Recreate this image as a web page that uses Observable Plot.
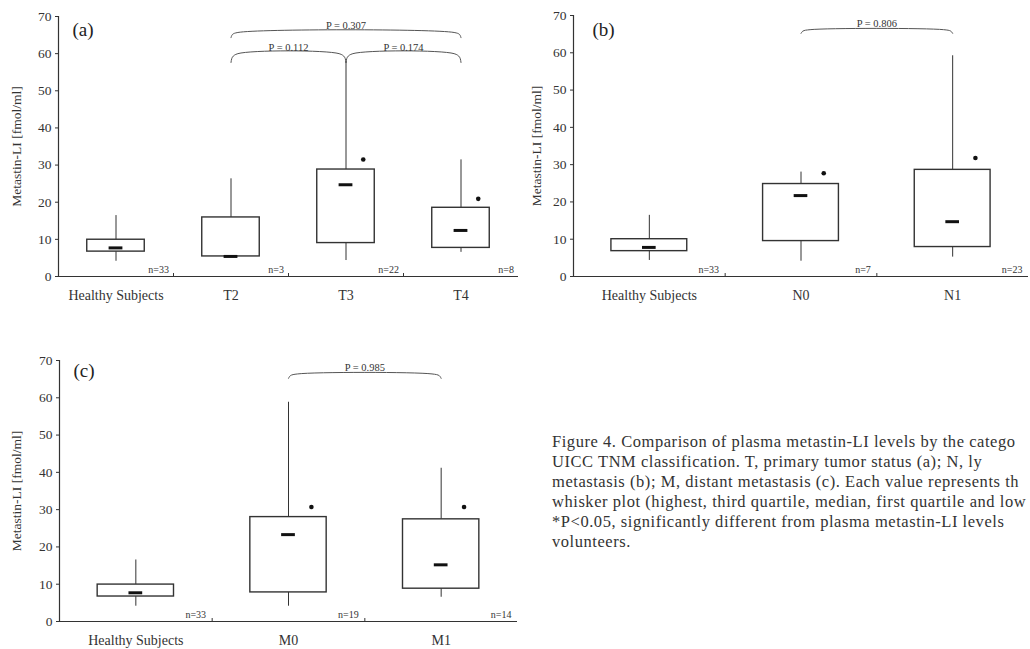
<!DOCTYPE html>
<html><head><meta charset="utf-8">
<script src="https://cdn.jsdelivr.net/npm/d3@7"></script>
<script src="https://cdn.jsdelivr.net/npm/@observablehq/plot@0.6"></script>
<style>
html,body{margin:0;padding:0;background:#fff;width:1030px;height:649px;overflow:hidden;position:relative;font-family:'Liberation Serif','Times New Roman',serif;}
.panel{position:absolute;}
#caption{position:absolute;left:552px;top:432px;width:476px;white-space:nowrap;font-size:16.5px;letter-spacing:0.55px;line-height:20px;color:#333;}
#caption div{height:20px;}
</style></head><body>
<div id="pa" class="panel" style="left:0px;top:0px"></div>
<div id="pb" class="panel" style="left:520px;top:0px"></div>
<div id="pc" class="panel" style="left:0px;top:340px"></div>
<div id="caption"></div>
<script>
// ---------- Panel (a): T status ----------
const aCategories = ["Healthy Subjects", "T2", "T3", "T4"];
const aHigh   = [16.4, 26.3, 58.0, 31.4];
const aQ3     = [9.9, 15.9, 28.8, 18.5];
const aMedian = [7.7, 5.4, 24.7, 12.4];
const aQ1     = [6.7, 5.4, 9.0, 7.7];
const aLow    = [4.1, 5.4, 4.3, 6.5];
const aN      = [33, 3, 22, 8];
const aSig    = [null, null, 31.5, 20.9];
const aBracketFrom  = ["T2", "T2", "T3"];
const aBracketTo    = ["T4", "T3", "T4"];
const aBracketLevel = [65.7, 60.0, 60.0];
const aBracketP     = ["0.307", "0.112", "0.174"];

// ---------- Panel (b): N status ----------
const bCategories = ["Healthy Subjects", "N0", "N1"];
const bHigh   = [16.4, 28.0, 59.2];
const bQ3     = [10.0, 24.8, 28.6];
const bMedian = [7.8, 21.7, 14.7];
const bQ1     = [6.8, 9.5, 7.9];
const bLow    = [4.3, 4.1, 5.2];
const bN      = [33, 7, 23];
const bSig    = [null, 27.7, 31.8];
const bBracketFrom  = ["N0"];
const bBracketTo    = ["N1"];
const bBracketLevel = [66.2];
const bBracketP     = ["0.806"];

// ---------- Panel (c): M status ----------
const cCategories = ["Healthy Subjects", "M0", "M1"];
const cHigh   = [16.5, 58.8, 41.1];
const cQ3     = [9.9, 28.0, 27.4];
const cMedian = [7.7, 23.3, 15.2];
const cQ1     = [6.7, 7.8, 8.8];
const cLow    = [4.1, 4.1, 6.5];
const cN      = [33, 19, 14];
const cSig    = [null, 30.7, 30.7];
const cBracketFrom  = ["M0"];
const cBracketTo    = ["M1"];
const cBracketLevel = [66.4];
const cBracketP     = ["0.985"];

const yTicks = [0, 10, 20, 30, 40, 50, 60, 70];
const yLabel = "Metastin-LI [fmol/ml]";

// caption lines exactly as visible in the (right-cropped) reference
const captionLines = [
  "Figure 4. Comparison of plasma metastin-LI levels by the catego",
  "UICC TNM classification. T, primary tumor status (a); N, ly",
  "metastasis (b); M, distant metastasis (c). Each value represents th",
  "whisker plot (highest, third quartile, median, first quartile and low",
  "*P<0.05, significantly different from plasma metastin-LI levels",
  "volunteers."
];

const INK = "#333";

function panel(d, layout) {
  const k = d.categories.length;
  const rows = d.categories.map((c, i) => ({
    i, cat: c, high: d.high[i], q3: d.q3[i], median: d.median[i],
    q1: d.q1[i], low: d.low[i], n: d.n[i], sig: d.sig[i]
  }));
  const brackets = d.from.map((f, j) => ({
    j, a: d.categories.indexOf(f), b: d.categories.indexOf(d.to[j]),
    level: d.level[j], p: d.p[j], drop: layout.drops[j]
  }));
  const pts = brackets.flatMap(br => {
    const L = br.level, D = br.drop;
    return [
      [br.a, L - D], [br.a + 0.012, L - D * 0.4], [br.a + 0.06, L],
      [br.b - 0.06, L], [br.b - 0.012, L - D * 0.4], [br.b, L - D]
    ].map(([x, y]) => ({id: br.j, x, y}));
  });
  return Plot.plot({
    width: layout.width, height: layout.height,
    marginLeft: layout.ml, marginRight: layout.mr,
    marginTop: layout.mt, marginBottom: layout.mb,
    style: {fontFamily: "'Liberation Serif','Times New Roman',serif", fontSize: "13px", color: INK, background: "transparent", overflow: "visible"},
    x: {domain: [-0.5, k - 0.5], axis: null},
    y: {domain: [0, 70], axis: null},
    marks: [
      Plot.axisY({ticks: yTicks, tickSize: 3, tickPadding: 4, fontSize: 13.5,
        label: yLabel, labelAnchor: "center", labelArrow: "none", labelOffset: layout.labelOffset}),
      Plot.axisX({ticks: d3.range(k), tickFormat: i => d.categories[i], tickSize: 0, tickPadding: 14, fontSize: 14, label: null}),
      Plot.ruleX([-0.5], {y1: 0, y2: 70, stroke: INK, strokeWidth: 1.2}),
      Plot.ruleY([0], {stroke: INK, strokeWidth: 1.2}),
      Plot.ruleX(d3.range(1, k), {x: i => i - 0.5, y1: 0, y2: 0.8, stroke: INK}),
      Plot.ruleX(rows, {x: "i", y1: "q3", y2: "high", stroke: INK, strokeWidth: 1}),
      Plot.ruleX(rows, {x: "i", y1: "low", y2: "q1", stroke: INK, strokeWidth: 1}),
      Plot.rect(rows, {x1: r => r.i - 0.25, x2: r => r.i + 0.25, y1: "q1", y2: "q3", fill: "white", stroke: INK, strokeWidth: 1.4}),
      Plot.ruleY(rows, {y: "median", x1: r => r.i - layout.medW, x2: r => r.i + layout.medW, stroke: "#111", strokeWidth: 3}),
      Plot.dot(rows.filter(r => r.sig != null), {x: r => r.i + 0.15, y: "sig", r: 2.3, fill: "#111", stroke: "none"}),
      Plot.text(rows, {x: r => r.i + 0.46, y: 0, text: r => "n=" + r.n, textAnchor: "end", lineAnchor: "bottom", dy: -4, fontSize: 10, fill: INK}),
      Plot.line(pts, {x: "x", y: "y", z: "id", curve: "catmull-rom", stroke: "#555", strokeWidth: 1}),
      Plot.text(brackets, {x: br => (br.a + br.b) / 2, y: "level", text: br => "P = " + br.p, lineAnchor: "bottom", dy: -3, fontSize: 10.5, fontStyle: "normal", fill: INK}),
      Plot.text([layout.tag], {frameAnchor: "top-left", dx: layout.tagDx, dy: layout.tagDy, fontSize: 19, fill: "#222"})
    ]
  });
}

document.getElementById("pa").append(panel(
  {categories: aCategories, high: aHigh, q3: aQ3, median: aMedian, q1: aQ1, low: aLow, n: aN, sig: aSig,
   from: aBracketFrom, to: aBracketTo, level: aBracketLevel, p: aBracketP},
  {width: 520, height: 305, ml: 58, mr: 2, mt: 16, mb: 29, labelOffset: 47, medW: 0.06, drops: [1.4, 2.4, 2.4], tag: "(a)", tagDx: 14, tagDy: 6}));

document.getElementById("pb").append(panel(
  {categories: bCategories, high: bHigh, q3: bQ3, median: bMedian, q1: bQ1, low: bLow, n: bN, sig: bSig,
   from: bBracketFrom, to: bBracketTo, level: bBracketLevel, p: bBracketP},
  {width: 510, height: 305, ml: 53, mr: 2, mt: 15, mb: 29, labelOffset: 42, medW: 0.045, drops: [1.0], tag: "(b)", tagDx: 19, tagDy: 7}));

document.getElementById("pc").append(panel(
  {categories: cCategories, high: cHigh, q3: cQ3, median: cMedian, q1: cQ1, low: cLow, n: cN, sig: cSig,
   from: cBracketFrom, to: cBracketTo, level: cBracketLevel, p: cBracketP},
  {width: 520, height: 309, ml: 59, mr: 3, mt: 20, mb: 28, labelOffset: 48, medW: 0.045, drops: [1.2], tag: "(c)", tagDx: 14, tagDy: 3}));

const cap = document.getElementById("caption");
for (const line of captionLines) {
  const div = document.createElement("div");
  div.textContent = line;
  cap.append(div);
}
</script>
</body></html>
